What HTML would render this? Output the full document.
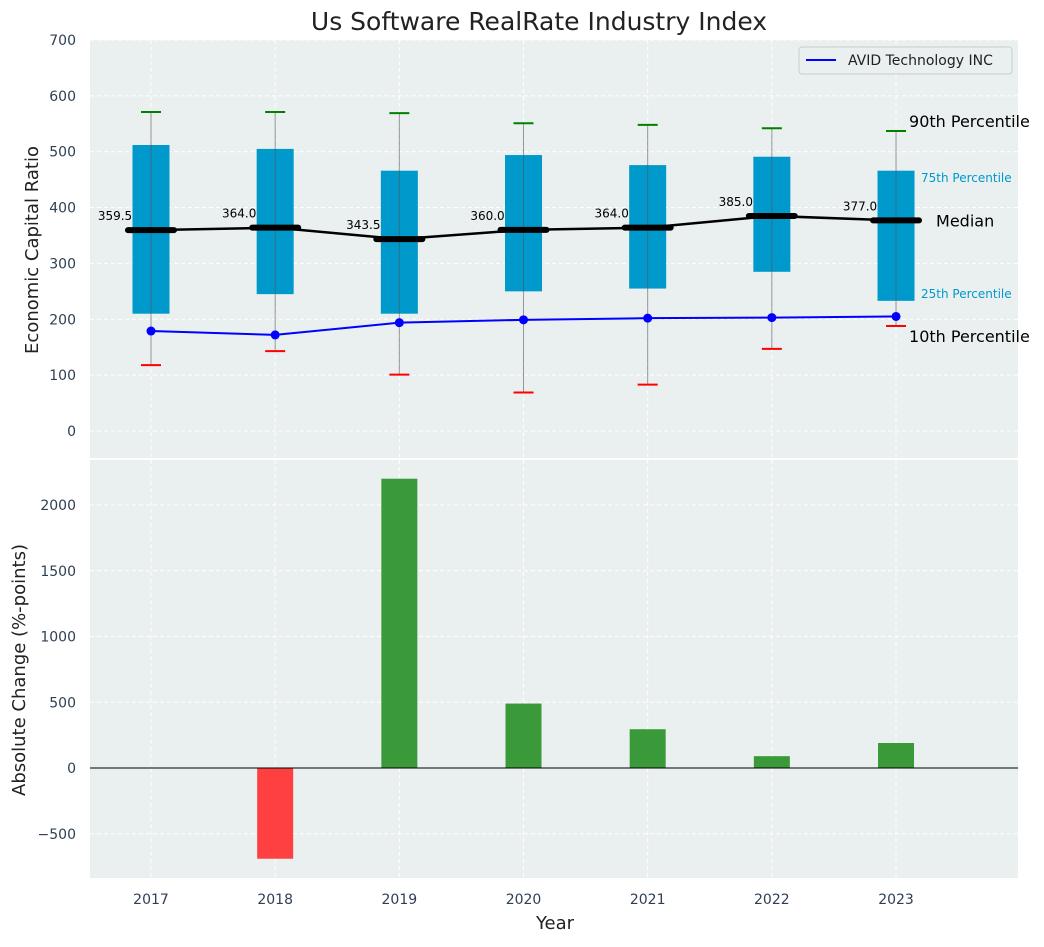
<!DOCTYPE html>
<html><head><meta charset="utf-8"><style>
body{margin:0;background:#fff;font-family:"Liberation Sans","DejaVu Sans",sans-serif}
svg text{font-family:"DejaVu Sans","Liberation Sans",sans-serif}
</style></head><body>
<svg id="c" width="1044" height="942" xmlns="http://www.w3.org/2000/svg"></svg>
<script>
const years=[2017,2018,2019,2020,2021,2022,2023];
const q1=[210,245,210,250,255,285,233];
const q3=[512,505,466,494,476,491,466];
const med=[359.5,364.0,343.5,360.0,364.0,385.0,377.0];
const p10=[118,143,101,69,83,147,188];
const p90=[571,571,569,551,548,542,537];
const avid=[179,172,194,199,202,203,205];
const change=[0,-690,2200,490,295,90,190];
const yTicksTop=[0,100,200,300,400,500,600,700];
const yTicksBot=[-500,0,500,1000,1500,2000];

const svg=document.getElementById('c');
const NS='http://www.w3.org/2000/svg';
function el(t,a,txt){const e=document.createElementNS(NS,t);for(const k in a)e.setAttribute(k,a[k]);if(txt!==undefined)e.textContent=txt;svg.appendChild(e);return e;}
const L=90,R=1018;
const xs=i=>151+i*124.17;
const yT=v=>431-v*0.5586;
const yB=v=>768-v*0.1315;

let p=el('rect',{x:L,y:40,width:R-L,height:418,fill:'#eaeff0'});


p=el('rect',{x:L,y:460,width:R-L,height:418,fill:'#eaeff0'});



years.forEach((y,i)=>{
 el('line',{x1:xs(i),x2:xs(i),y1:40,y2:458,stroke:'#fff','stroke-dasharray':'4,3'});
 el('line',{x1:xs(i),x2:xs(i),y1:460,y2:878,stroke:'#fff','stroke-dasharray':'4,3'});
 const t=el('text',{x:xs(i),y:904,'text-anchor':'middle','font-size':14,fill:'#2e3f55'},y);
 
 
});
yTicksTop.forEach(v=>{
 el('line',{x1:L,x2:R,y1:yT(v),y2:yT(v),stroke:'#fff','stroke-dasharray':'4,3'});
 const t=el('text',{x:76,y:yT(v)+5,'text-anchor':'end','font-size':14,fill:'#2e3f55'},v);
 
 
});
yTicksBot.forEach(v=>{
 el('line',{x1:L,x2:R,y1:yB(v),y2:yB(v),stroke:'#fff','stroke-dasharray':'4,3'});
 const t=el('text',{x:76,y:yB(v)+5,'text-anchor':'end','font-size':14,fill:'#2e3f55'},v===-500?'−500':v);
 
 
});

const bw=37;
years.forEach((y,i)=>{
 const x=xs(i);
 let b=el('rect',{x:x-bw/2,y:yT(q3[i]),width:bw,height:yT(q1[i])-yT(q3[i]),fill:'#0099cc'});
 
 
 el('line',{x1:x,x2:x,y1:yT(p10[i]),y2:yT(p90[i]),stroke:'#555','stroke-opacity':0.6,'stroke-width':1});
 let c=el('line',{x1:x-10,x2:x+10,y1:yT(p90[i]),y2:yT(p90[i]),stroke:'green','stroke-width':2});
 
 
 c=el('line',{x1:x-10,x2:x+10,y1:yT(p10[i]),y2:yT(p10[i]),stroke:'red','stroke-width':2});
 
 
});
let pts=med.map((v,i)=>xs(i)+','+yT(v)).join(' ');
let ml=el('polyline',{points:pts,fill:'none',stroke:'#000','stroke-width':2.5});


years.forEach((y,i)=>{
 const x=xs(i);
 const m=el('line',{x1:x-23,x2:x+23,y1:yT(med[i]),y2:yT(med[i]),stroke:'#000','stroke-width':6,'stroke-linecap':'round'});
 
 
 const t=el('text',{x:x-36,y:yT(med[i]+25)+4,'text-anchor':'middle','font-size':12,fill:'#000'},med[i].toFixed(1));
 
 
});
pts=avid.map((v,i)=>xs(i)+','+yT(v)).join(' ');
let al=el('polyline',{points:pts,fill:'none',stroke:'#0000ff','stroke-width':2});


avid.forEach((v,i)=>{
 const d=el('circle',{cx:xs(i),cy:yT(v),r:4.5,fill:'#0000ff'});
 
 
});
const last=6,lx=xs(last);
[[lx+13,yT(p90[last]+18)+6,'90th Percentile',16,'#000'],[lx+25,yT(q3[last]-13)+4,'75th Percentile',12,'#0099cc'],
 [lx+40,yT(med[last])+6,'Median',16,'#000'],[lx+25,yT(q1[last]+12)+4,'25th Percentile',12,'#0099cc'],
 [lx+13,yT(p10[last]-18)+6,'10th Percentile',16,'#000']].forEach(a=>{
 const t=el('text',{x:a[0],y:a[1],'font-size':a[3],fill:a[4]},a[2]);
 
 
});
let lg=el('rect',{x:799,y:47,width:213,height:27,fill:'#eaeff0',stroke:'#ccc',rx:3});


el('line',{x1:806,x2:836,y1:60,y2:60,stroke:'#0000ff','stroke-width':2});
let lt=el('text',{x:848,y:65,'font-size':14,fill:'#222'},'AVID Technology INC');



change.forEach((v,i)=>{
 const y0=yB(0),y1=yB(v);
 const b=el('rect',{x:xs(i)-18,y:Math.min(y0,y1),width:36,height:Math.abs(y1-y0),fill:v>=0?'#3a9a3a':'#ff4040'});
 
 
});
el('line',{x1:L,x2:R,y1:yB(0),y2:yB(0),stroke:'#000','stroke-width':1});

let t=el('text',{x:539,y:30,'text-anchor':'middle','font-size':25,fill:'#222'},'Us Software RealRate Industry Index');

t=el('text',{x:555,y:929,'text-anchor':'middle','font-size':18,fill:'#222'},'Year');

t=el('text',{x:38,y:250,'text-anchor':'middle','font-size':18,fill:'#222',transform:'rotate(-90 38 250)'},'Economic Capital Ratio');

t=el('text',{x:25,y:670,'text-anchor':'middle','font-size':18,fill:'#222',transform:'rotate(-90 25 670)'},'Absolute Change (%-points)');

</script>
</body></html>
